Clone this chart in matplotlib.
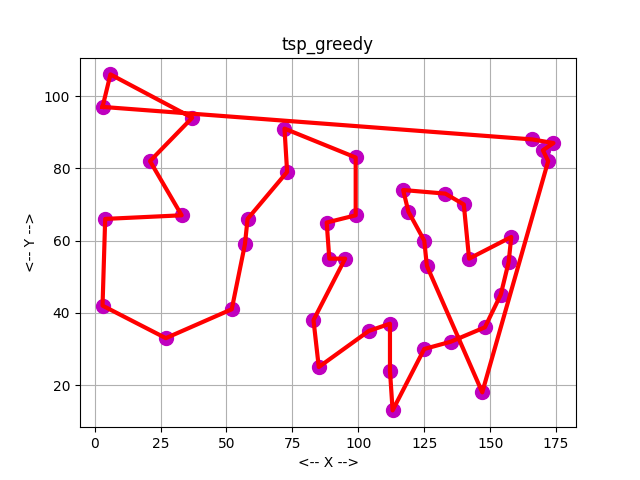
import numpy as np
import matplotlib
matplotlib.use('Agg')
import matplotlib.pyplot as plt

# city coordinates in tour order (greedy)
tour_x = [3, 166, 174, 170, 172, 147, 126, 125, 119, 117, 133, 140, 142,
          158, 157, 154, 148, 135, 125, 113, 112, 112, 104, 85, 83, 95, 89,
          88, 99, 99, 72, 73, 58, 57, 52, 27, 3, 4, 33, 21, 37, 6]
tour_y = [97, 88, 87, 85, 82, 18, 53, 60, 68, 74, 73, 70, 55,
          61, 54, 45, 36, 32, 30, 13, 24, 37, 35, 25, 38, 55, 55,
          65, 67, 83, 91, 79, 66, 59, 41, 33, 42, 66, 67, 82, 94, 106]

x = np.array(tour_x)
y = np.array(tour_y)
# close the loop
lx = np.r_[x, x[0]]
ly = np.r_[y, y[0]]

fig, ax = plt.subplots(figsize=(6.4, 4.8), dpi=100)
ax.scatter(x, y, s=100, c='m', zorder=2)
ax.plot(lx, ly, color='r', linewidth=3, zorder=3)
ax.grid(True)
ax.set_axisbelow(True)
ax.set_title('tsp_greedy')
ax.set_xlabel('<-- X -->')
ax.set_ylabel('<-- Y -->')
fig.savefig('out.png')
